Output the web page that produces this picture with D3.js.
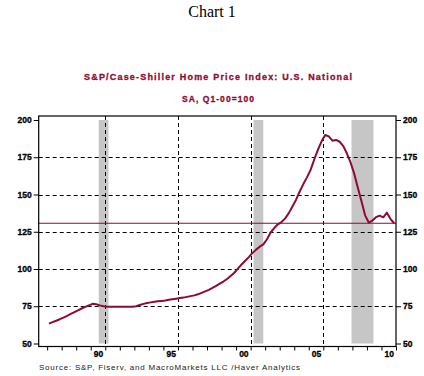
<!DOCTYPE html>
<html lang="en">

<head>
    <meta charset="UTF-8">
    <script src="https://d3js.org/d3.v7.min.js"></script>
    <title>Chart 1</title>
    <style>
        body {
            margin: 0;
            background: #fff;
        }
    </style>
</head>

<body>
    <script>
        // quarterly values, 1987Q1 .. 2010Q4 (SA, Q1-00=100)
        var startYear = 1987
        var values = [
            63.3, 64.3, 65.3, 66.3,
            67.4, 68.6, 69.9, 71.0,
            72.3, 73.5, 74.6, 75.6,
            76.6, 76.3, 75.6, 75.0,
            74.7, 74.6, 74.6, 74.6,
            74.6, 74.6, 74.6, 74.7,
            75.0, 75.8, 76.6, 77.2,
            77.6, 78.0, 78.3, 78.6,
            78.9, 79.3, 79.7, 80.1,
            80.5, 80.8, 81.3, 81.8,
            82.3, 83.0, 84.0, 85.0,
            86.0, 87.3, 88.7, 90.2,
            91.6, 93.3, 95.3, 97.5,
            100.3, 103.0, 105.5, 108.0,
            110.8, 113.0, 115.0, 116.5,
            120.0, 124.5, 127.5, 130.0,
            131.5, 134.0, 137.5, 142.0,
            146.5, 152.0, 157.0, 161.5,
            166.5, 173.5, 180.0, 185.5,
            189.9, 189.0, 186.1, 186.6,
            185.4, 182.5, 177.5, 171.5,
            164.0, 154.5, 145.5, 136.0,
            131.2, 132.5, 134.8, 135.8,
            134.7, 137.8, 133.5, 130.7
        ]
        // recessions (decimal years)
        var recessions = [[1990.55, 1991.22], [2001.2, 2001.87], [2007.94, 2009.45]]
        var yTicks = [50, 75, 100, 125, 150, 175, 200]
        var gridYears = [1991, 1996, 2001, 2006]
        var labelYears = [1990, 1995, 2000, 2005, 2010]
        var labelText = ["90", "95", "00", "05", "10"]

        var lineColor = "#8c0a33"
        var W = 424, H = 376
        var plotL = 38.7, plotR = 396, plotT = 116, plotB = 346.5

        var data = values.map(function (v, i) {
            return { t: startYear + i / 4 + 0.125, v: v }
        })
        var last = values[values.length - 1]

        var svg = d3.select("body")
            .append("svg")
            .attr("width", W)
            .attr("height", H)

        var x = d3.scaleLinear().domain([1986.42, 2011]).range([plotL, plotR])
        var y = d3.scaleLinear().domain([50, 200]).range([343.5, 120])

        // titles
        svg.append("text")
            .attr("x", 212).attr("y", 17)
            .attr("text-anchor", "middle")
            .style("font-family", "'Liberation Serif', 'Times New Roman', serif")
            .style("font-size", "16px")
            .text("Chart 1")

        svg.append("text")
            .attr("x", 218).attr("y", 80)
            .attr("text-anchor", "middle")
            .attr("textLength", 268).attr("lengthAdjust", "spacing")
            .style("font-family", "'Liberation Sans', Arial, sans-serif")
            .style("font-size", "9px").style("font-weight", "bold")
            .attr("fill", lineColor).attr("stroke", lineColor).attr("stroke-width", 0.3)
            .text("S&P/Case-Shiller Home Price Index: U.S. National")

        svg.append("text")
            .attr("x", 218).attr("y", 101.5)
            .attr("text-anchor", "middle")
            .attr("textLength", 72).attr("lengthAdjust", "spacing")
            .style("font-family", "'Liberation Sans', Arial, sans-serif")
            .style("font-size", "8.5px").style("font-weight", "bold")
            .attr("fill", lineColor).attr("stroke", lineColor).attr("stroke-width", 0.3)
            .text("SA, Q1-00=100")

        // recession bars
        svg.selectAll("rect.rec")
            .data(recessions)
            .join("rect")
            .attr("class", "rec")
            .attr("x", function (d) { return x(d[0]) })
            .attr("width", function (d) { return x(d[1]) - x(d[0]) })
            .attr("y", y(200))
            .attr("height", y(50) - y(200))
            .attr("fill", "#c6c6c6")

        // dashed grid
        svg.selectAll("line.gy")
            .data(yTicks.slice(1, -1))
            .join("line")
            .attr("class", "gy")
            .attr("x1", plotL).attr("x2", plotR)
            .attr("y1", function (d) { return Math.round(y(d)) + 0.5 })
            .attr("y2", function (d) { return Math.round(y(d)) + 0.5 })
            .attr("stroke", "#000").attr("stroke-dasharray", "4,3")

        svg.selectAll("line.gx")
            .data(gridYears)
            .join("line")
            .attr("class", "gx")
            .attr("x1", function (d) { return Math.round(x(d)) + 0.5 })
            .attr("x2", function (d) { return Math.round(x(d)) + 0.5 })
            .attr("y1", plotT).attr("y2", plotB)
            .attr("stroke", "#000").attr("stroke-dasharray", "4,3")

        // reference line at latest value
        svg.append("line")
            .attr("x1", plotL).attr("x2", plotR)
            .attr("y1", y(last)).attr("y2", y(last))
            .attr("stroke", lineColor).attr("stroke-width", 1.2)

        // series
        svg.append("path")
            .datum(data)
            .attr("fill", "none")
            .attr("stroke", lineColor)
            .attr("stroke-width", 2)
            .attr("stroke-linejoin", "round")
            .attr("d", d3.line()
                .x(function (d) { return x(d.t) })
                .y(function (d) { return y(d.v) }))

        // frame
        svg.append("rect")
            .attr("x", plotL).attr("y", plotT)
            .attr("width", plotR - plotL).attr("height", plotB - plotT)
            .attr("fill", "none").attr("stroke", "#000").attr("stroke-width", 1.2)

        // axes
        var tickFont = function (g) {
            g.select(".domain").remove()
            g.selectAll("text")
                .style("font-family", "'Liberation Sans', Arial, sans-serif")
                .style("font-size", "8.5px").style("font-weight", "bold")
                .attr("fill", "#000").attr("stroke", "#000").attr("stroke-width", 0.3)
        }
        svg.append("g")
            .attr("transform", "translate(" + plotL + ",0)")
            .call(d3.axisLeft(y).tickValues(yTicks).tickSize(5).tickPadding(2))
            .call(tickFont)
        svg.append("g")
            .attr("transform", "translate(" + plotR + ",0)")
            .call(d3.axisRight(y).tickValues(yTicks).tickSize(5).tickPadding(2))
            .call(tickFont)

        var years = d3.range(1987, 2012)
        svg.append("g")
            .attr("transform", "translate(0," + plotB + ")")
            .call(d3.axisBottom(x).tickValues(years).tickSize(4).tickFormat(""))
            .call(tickFont)
        svg.append("g")
            .attr("transform", "translate(0," + plotB + ")")
            .call(d3.axisBottom(x).tickValues(labelYears.map(function (d) { return d + 0.5 }))
                .tickSize(0).tickPadding(4)
                .tickFormat(function (d, i) { return labelText[i] }))
            .call(tickFont)

        // source
        svg.append("text")
            .attr("x", 39).attr("y", 370)
            .attr("textLength", 261).attr("lengthAdjust", "spacing")
            .style("font-family", "'Liberation Sans', Arial, sans-serif")
            .style("font-size", "8px")
            .attr("fill", "#222")
            .text("Source:  S&P, Fiserv, and MacroMarkets LLC /Haver Analytics")
    </script>
</body>

</html>
